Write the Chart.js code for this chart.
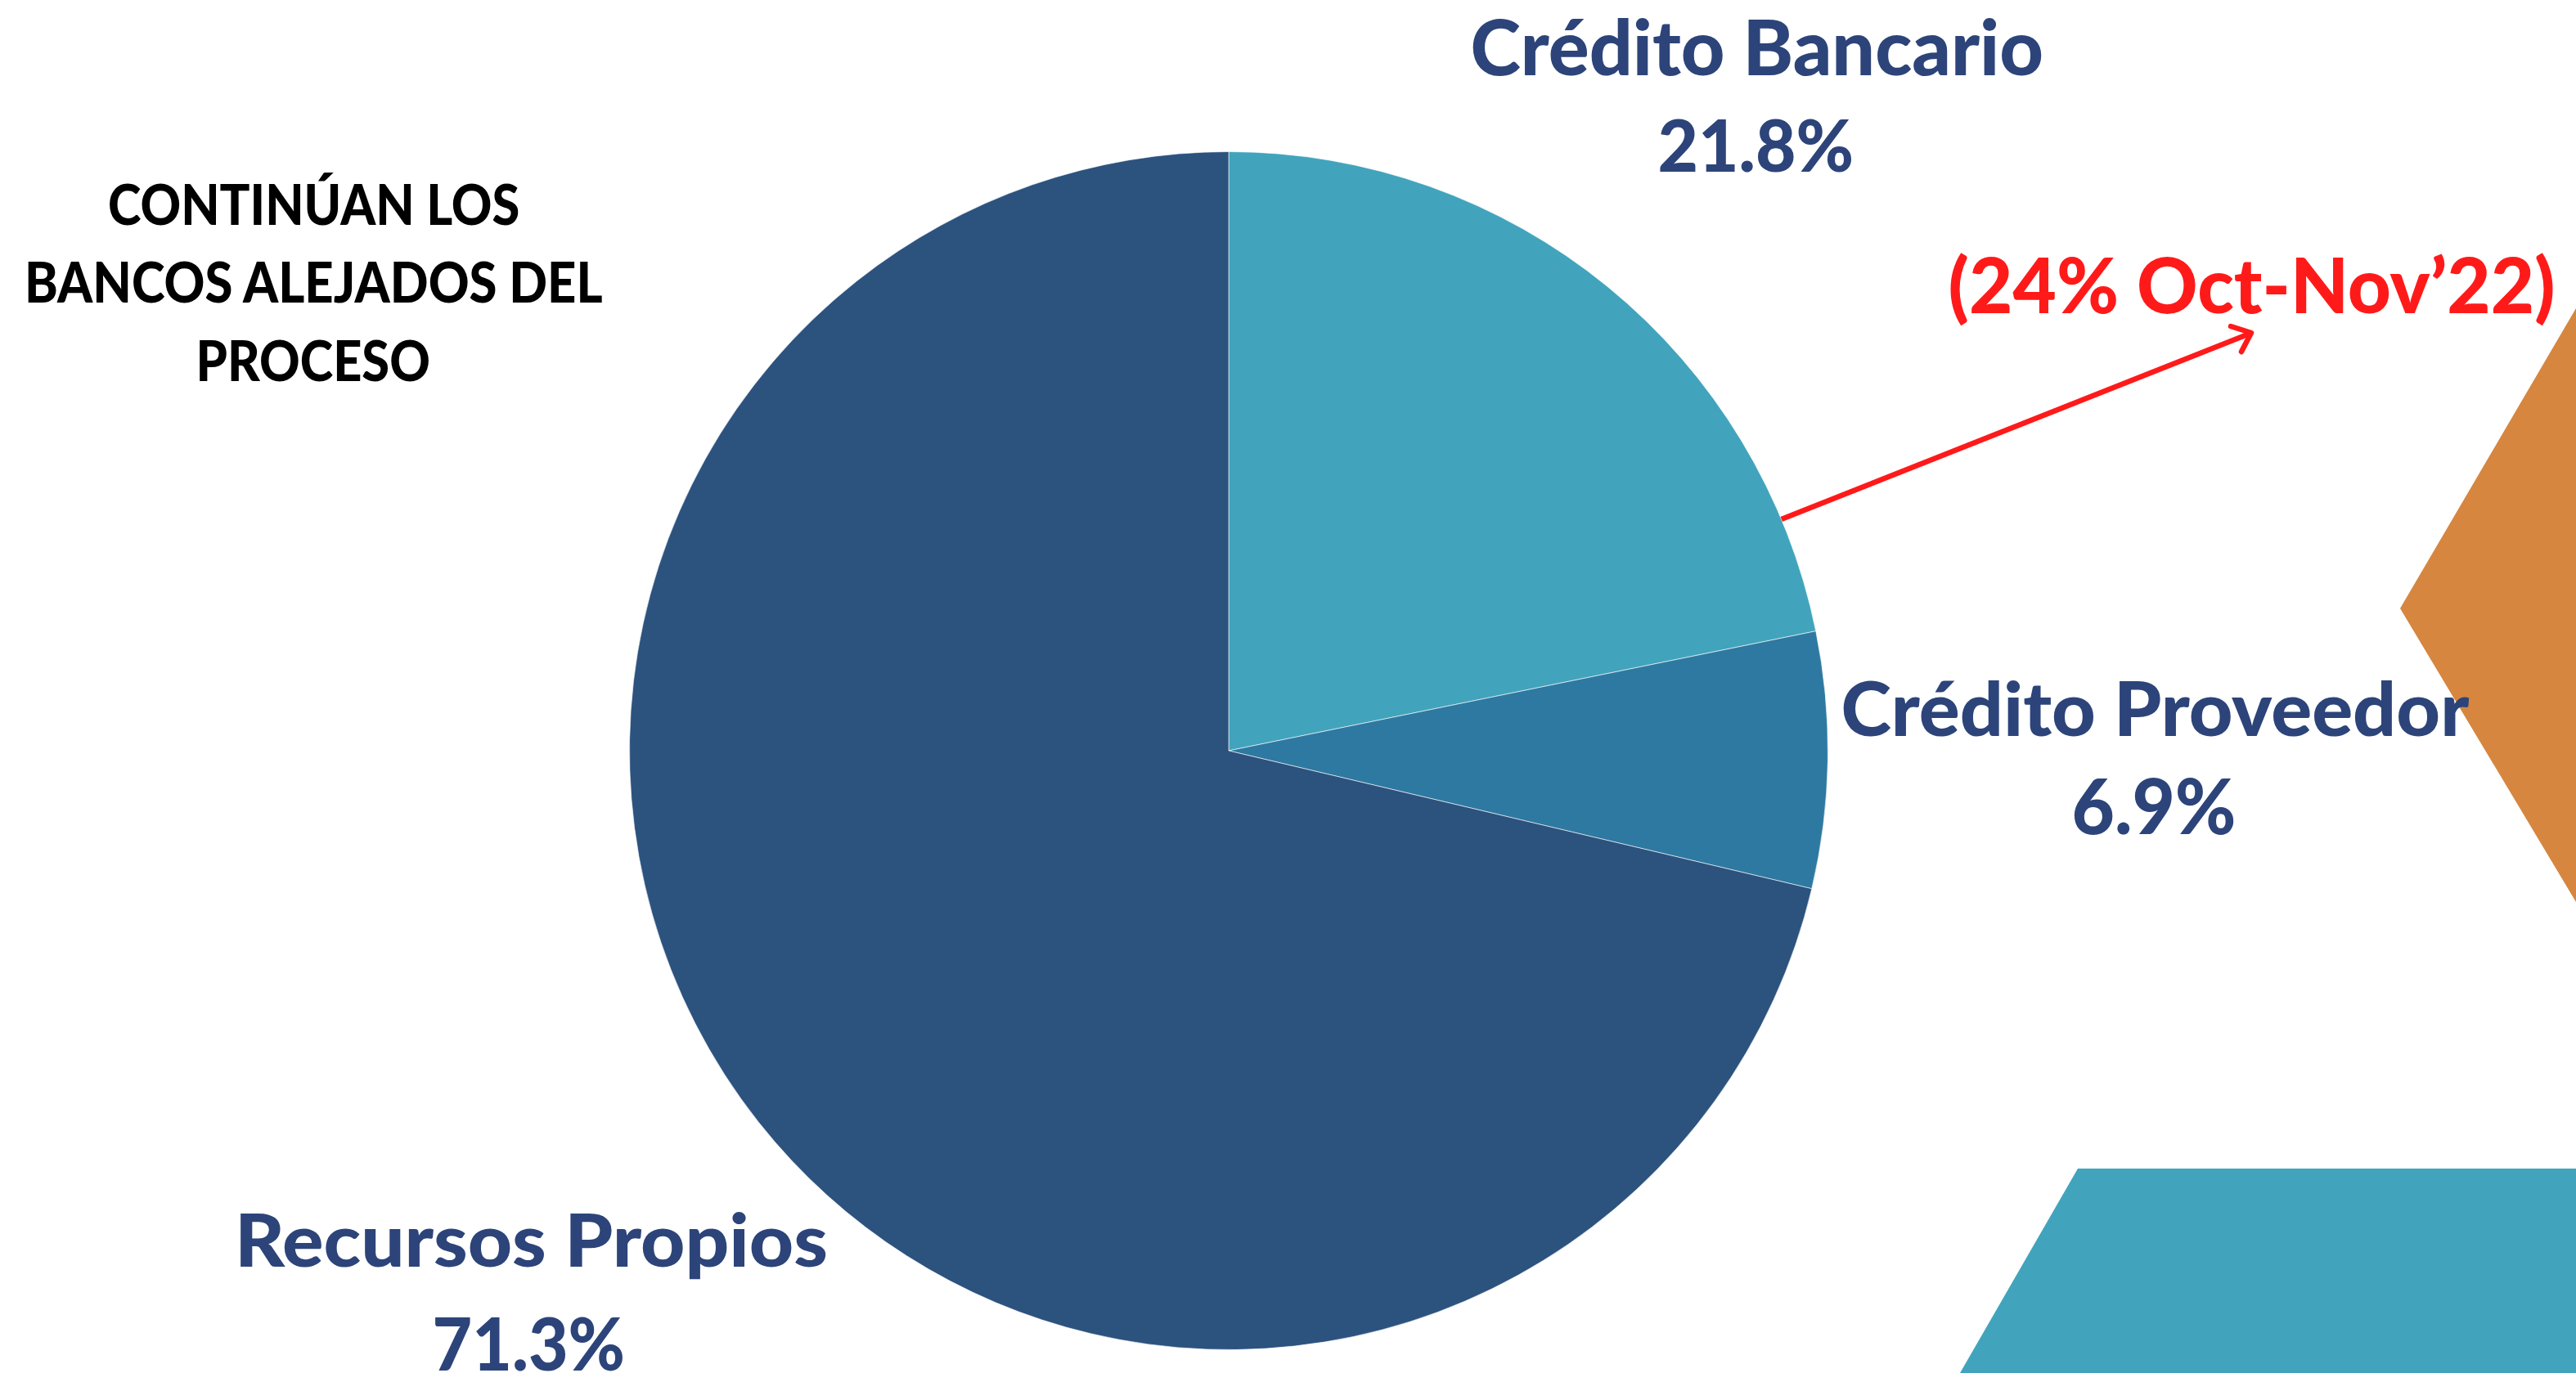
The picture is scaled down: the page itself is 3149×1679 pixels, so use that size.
<!DOCTYPE html>
<html><head><meta charset="utf-8">
<script src="https://cdn.jsdelivr.net/npm/chart.js@4.4.1/dist/chart.umd.min.js"></script>
<style>
html,body{margin:0;padding:0;background:#fff;width:3149px;height:1679px;overflow:hidden;}
body{position:relative;}
#deco{position:absolute;left:0;top:0;}
#wrap{position:absolute;left:769px;top:185px;width:1466px;height:1466px;}
.lbl{position:absolute;white-space:nowrap;font-family:Lato,"Open Sans",sans-serif;font-weight:900;line-height:1;transform-origin:50% 50%;}
</style></head>
<body>
<svg id="deco" width="3149" height="1679" xmlns="http://www.w3.org/2000/svg">
  <polygon points="3149,377 2934,744 3149,1103" fill="#D6863F"/>
  <polygon points="2540,1429 3149,1429 3149,1679 2396,1679" fill="#41A4BC"/>
  <g stroke="#FF1A1A" stroke-width="6.5" fill="none">
    <line x1="2170" y1="638" x2="2750" y2="408" stroke-linecap="butt"/>
    <polyline points="2727,399 2752,407 2740,430" stroke-linecap="round" stroke-linejoin="round"/>
  </g>
</svg>
<div id="wrap"><canvas id="c"></canvas></div>
<script>
// ---- data ----
const categories = ['Crédito Bancario', 'Crédito Proveedor', 'Recursos Propios'];
const shares = [21.8, 6.9, 71.3];
const noteText = '(24% Oct-Nov\u201922)';
const headlineLines = ['CONTINÚAN LOS', 'BANCOS ALEJADOS DEL', 'PROCESO'];

// ---- styles ----
const sliceColors = ['#41A4BC', '#2E79A1', '#2C527E'];
const labelColor = '#2C4479';

new Chart(document.getElementById('c'), {
  type: 'pie',
  data: {
    labels: categories,
    datasets: [{
      data: shares,
      backgroundColor: sliceColors,
      borderColor: 'rgba(255,255,255,0.6)',
      borderWidth: 1
    }]
  },
  options: {
    responsive: true,
    maintainAspectRatio: false,
    animation: false,
    layout: { padding: 0 },
    plugins: { legend: { display: false }, tooltip: { enabled: false } }
  }
});

// text placement: centre x, baseline y, cap height, target width
function place(text, cx, baseline, capH, width, color) {
  const d = document.createElement('div');
  d.className = 'lbl';
  d.style.fontSize = (capH / 0.7165) + 'px';
  d.style.color = color;
  d.appendChild(document.createTextNode(text));
  const m = document.createElement('span');
  m.style.cssText = 'display:inline-block;width:0;height:0;vertical-align:baseline;';
  d.appendChild(m);
  document.body.appendChild(d);
  const w = d.offsetWidth;
  const b = m.offsetTop;
  d.style.left = (cx - w / 2) + 'px';
  d.style.top = (baseline - b) + 'px';
  d.style.transform = 'scaleX(' + (width / w) + ')';
}

const pct = v => v.toFixed(1) + '%';
// category labels
place(categories[0], 2147, 92, 67, 700, labelColor);
place(pct(shares[0]), 2146, 210, 63, 240, labelColor);
place(categories[1], 2634, 900, 66, 768, labelColor);
place(pct(shares[1]), 2633, 1020, 67, 201, labelColor);
place(categories[2], 649, 1549, 64, 725, labelColor);
place(pct(shares[2]), 646, 1676, 64, 236, labelColor);
// red note
place(noteText, 2752, 383, 67, 742, '#FF1A1A');
// headline
place(headlineLines[0], 383, 275, 49, 503, '#000000');
place(headlineLines[1], 383, 370, 49, 707, '#000000');
place(headlineLines[2], 382, 466, 49, 286, '#000000');
</script>
</body></html>
